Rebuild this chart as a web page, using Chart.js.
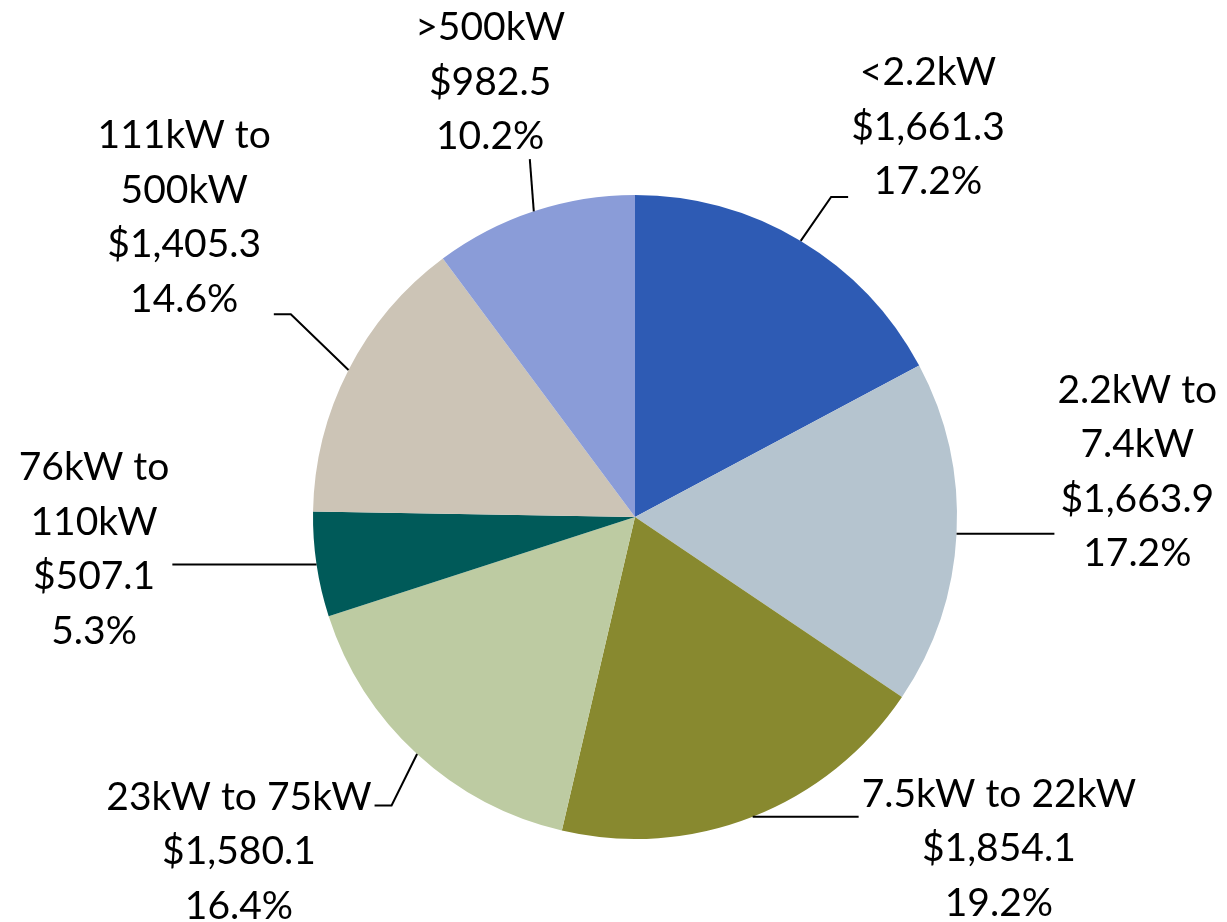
<!DOCTYPE html>
<html>
<head>
<meta charset="utf-8">
<script src="https://cdn.jsdelivr.net/npm/chart.js@4.4.0/dist/chart.umd.min.js"></script>
<style>
  body { margin: 0; background: #fff; }
  #wrap { width: 1227px; height: 922px; }
</style>
</head>
<body>
<div id="wrap"><canvas id="pieChart" width="1227" height="922"></canvas></div>
<script>
// kW size bands, label lines as they wrap in the original
const categories = [
    ['<2.2kW'],
    ['2.2kW to', '7.4kW'],
    ['7.5kW to 22kW'],
    ['23kW to 75kW'],
    ['76kW to', '110kW'],
    ['111kW to', '500kW'],
    ['>500kW']
];
const values = [1661.3, 1663.9, 1854.1, 1580.1, 507.1, 1405.3, 982.5];
const colors = ['#2E5BB4', '#B5C4CF', '#88892F', '#BDCBA2', '#005A59', '#CCC4B6', '#8A9CD8'];

// where each label block sits, in pie radii from the centre
const labelSpots = [
    [0.91, -1.21], [1.56, -0.14], [1.13, 1.03], [-1.23, 1.04],
    [-1.68, 0.10], [-1.40, -0.93], [-0.45, -1.35]
];

const outsideLabels = {
    id: 'outsideLabels',
    afterDatasetsDraw(chart) {
        const ctx = chart.ctx;
        const meta = chart.getDatasetMeta(0);
        const total = values.reduce((a, b) => a + b, 0);
        const lineH = 54.5;
        ctx.save();
        ctx.font = '39px Lato';
        ctx.fillStyle = '#000';
        ctx.strokeStyle = '#000';
        ctx.lineWidth = 2;
        ctx.textAlign = 'center';
        ctx.textBaseline = 'middle';
        meta.data.forEach(function(arc, i) {
            const p = arc.getProps(['x', 'y', 'startAngle', 'endAngle', 'outerRadius'], true);
            const mid = (p.startAngle + p.endAngle) / 2;
            const R = p.outerRadius;
            const px = p.x + Math.cos(mid) * R;
            const py = p.y + Math.sin(mid) * R;

            const lines = categories[i].concat([
                '$' + values[i].toLocaleString('en-US', {minimumFractionDigits: 1, maximumFractionDigits: 1}),
                (values[i] / total * 100).toFixed(1) + '%'
            ]);
            const cx = p.x + labelSpots[i][0] * R;
            const cy = p.y + labelSpots[i][1] * R;
            const w = Math.max.apply(null, lines.map(l => ctx.measureText(l).width));
            const top = cy - lines.length * lineH / 2;
            const left = cx - w / 2, right = cx + w / 2;
            const bottom = top + lines.length * lineH;
            lines.forEach(function(l, k) {
                ctx.fillText(l, cx, top + lineH * (k + 0.5));
            });

            // leader line
            const yMin = top + lineH * 0.5 + 8;
            const yMax = top + lineH * (lines.length - 0.5) + 15;
            const sy = Math.min(Math.max(py, yMin), yMax);
            ctx.beginPath();
            if (px < left - 5) {
                ctx.moveTo(px, py);
                ctx.lineTo(left - 20, sy);
                ctx.lineTo(left - 3, sy);
            } else if (px > right + 5) {
                ctx.moveTo(px, py);
                ctx.lineTo(right + 20, sy);
                ctx.lineTo(right + 3, sy);
            } else {
                ctx.moveTo(px, py);
                ctx.lineTo(px - 4, bottom - 5);
            }
            ctx.stroke();
        });
        ctx.restore();
    }
};

new Chart(document.getElementById('pieChart').getContext('2d'), {
    type: 'pie',
    data: {
        labels: categories.map(c => c.join(' ')),
        datasets: [{
            data: values,
            backgroundColor: colors,
            borderWidth: 0
        }]
    },
    options: {
        responsive: false,
        animation: false,
        layout: { padding: { left: 313, right: 270, top: 195, bottom: 83 } },
        plugins: {
            legend: { display: false },
            tooltip: { enabled: false }
        }
    },
    plugins: [outsideLabels]
});
</script>
</body>
</html>
